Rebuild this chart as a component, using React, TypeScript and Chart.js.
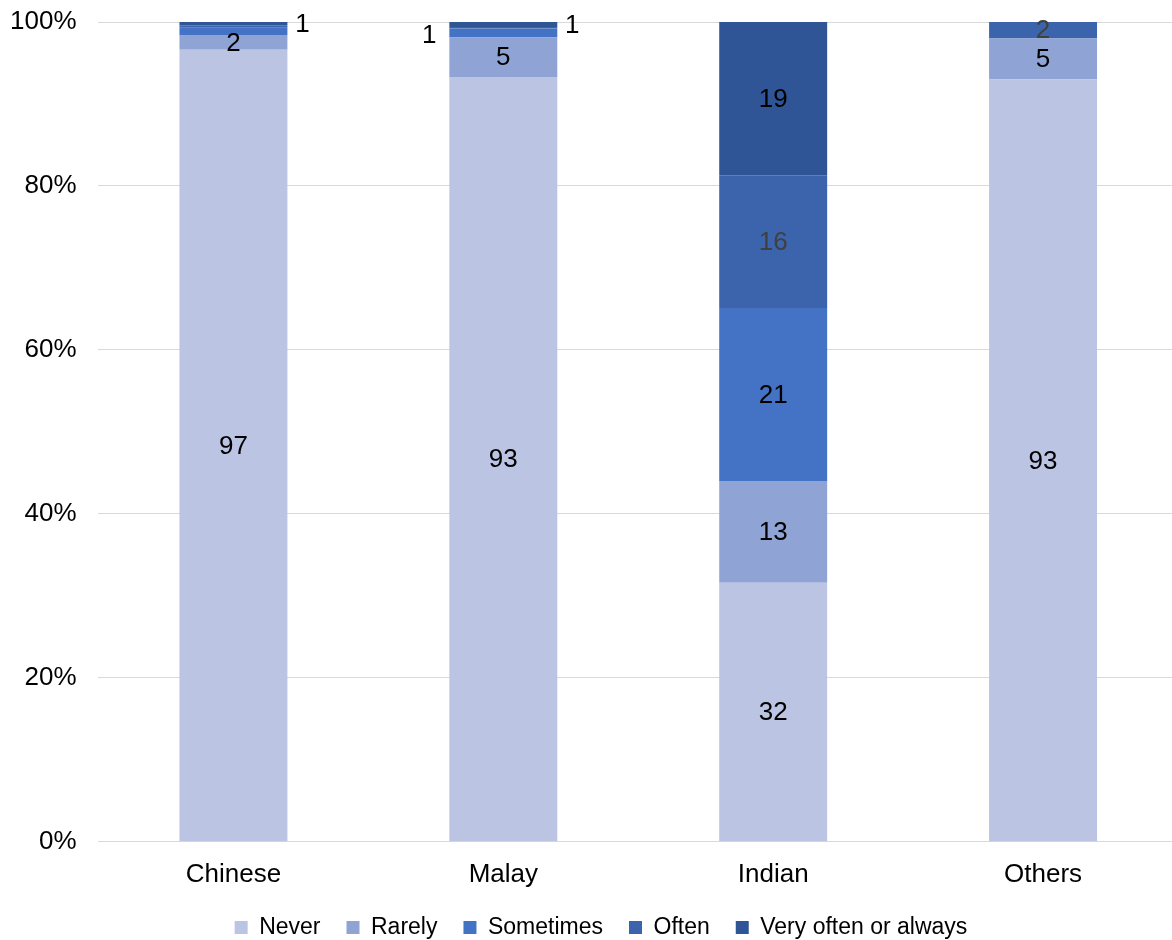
import React, { useEffect, useRef } from "react";
import { Chart, registerables } from "chart.js";

Chart.register(...registerables);

const categories = ["Chinese", "Malay", "Indian", "Others"];
const seriesNames = ["Never", "Rarely", "Sometimes", "Often", "Very often or always"];
const colors = ["#BBC4E3", "#8FA4D5", "#4472C4", "#3B64AD", "#2F5597"];

const never = [96.6, 93.3, 31.6, 93.0];
const rarely = [1.8, 4.8, 12.4, 5.0];
const sometimes = [0.9, 1.1, 21.1, 0.0];
const often = [0.3, 0.2, 16.2, 2.0];
const veryOften = [0.4, 0.6, 18.7, 0.0];

const neverLabels = ["97", "93", "32", "93"];
const rarelyLabels = ["2", "5", "13", "5"];
const sometimesLabels = ["", "1", "21", ""];
const oftenLabels = ["", "", "16", "2"];
const veryOftenLabels = ["1", "1", "19", ""];

// placement: c = centre, l = left of bar, r = right of bar
const neverPos = ["c", "c", "c", "c"];
const rarelyPos = ["c", "c", "c", "c"];
const sometimesPos = ["c", "l", "c", "c"];
const oftenPos = ["c", "c", "c", "c"];
const veryOftenPos = ["r", "r", "c", "c"];

const labelColors = [
  ["#000", "#000", "#000", "#000"],
  ["#000", "#000", "#000", "#000"],
  ["#000", "#000", "#000", "#000"],
  ["#000", "#000", "#404040", "#404040"],
  ["#000", "#000", "#000", "#000"],
];

const yTicks = [0, 20, 40, 60, 80, 100];

const seriesValues = [never, rarely, sometimes, often, veryOften];
const seriesLabels = [neverLabels, rarelyLabels, sometimesLabels, oftenLabels, veryOftenLabels];
const seriesPos = [neverPos, rarelyPos, sometimesPos, oftenPos, veryOftenPos];

const FONT = "'Liberation Sans', Arial, sans-serif";

const labelPlugin = {
  id: "segLabels",
  afterLayout(chart: any) {
    if (chart.legend) {
      chart.legend.left += 18;
      chart.legend.right += 18;
    }
  },
  afterDatasetsDraw(chart: any) {
    const ctx = chart.ctx;
    ctx.save();
    ctx.font = `26px ${FONT}`;
    ctx.textBaseline = "middle";
    ctx.textAlign = "center";
    seriesLabels.forEach((labels, i) => {
      const meta = chart.getDatasetMeta(i);
      meta.data.forEach((el: any, j: number) => {
        const text = labels[j];
        if (!text) return;
        const pos = seriesPos[i][j];
        const half = el.width / 2;
        const cy = (el.y + el.base) / 2;
        ctx.fillStyle = labelColors[i][j];
        if (pos === "c") {
          ctx.fillText(text, el.x, cy + 1);
        } else if (pos === "r") {
          ctx.fillText(text, el.x + half + 15, cy + 1);
        } else {
          ctx.fillText(text, el.x - half - 20, cy + 3);
        }
      });
    });
    ctx.restore();
  },
};

export default function App() {
  const ref = useRef<HTMLCanvasElement>(null);
  useEffect(() => {
    if (!ref.current) return;
    const chart = new Chart(ref.current, {
      type: "bar",
      data: {
        labels: categories,
        datasets: seriesNames.map((name, i) => ({
          label: name,
          data: seriesValues[i],
          backgroundColor: colors[i],
          borderWidth: 0,
          barPercentage: 0.4,
          categoryPercentage: 1,
        })),
      },
      options: {
        responsive: false,
        animation: false,
        layout: { padding: { left: -12, right: 0, top: 22, bottom: -9 } },
        scales: {
          x: {
            stacked: true,
            grid: { display: false, drawTicks: false },
            border: { display: true, color: "#D9D9D9", width: 1 },
            ticks: {
              color: "#000",
              font: { family: FONT, size: 26 },
              padding: 17,
            },
            afterFit: (s: any) => {
              s.height = s.height - 17;
              s.paddingLeft = 0;
              s.paddingRight = 0;
            },
          },
          y: {
            stacked: true,
            min: 0,
            max: 100,
            afterBuildTicks: (axis: any) => {
              axis.ticks = yTicks.map((v) => ({ value: v }));
            },
            afterFit: (s: any) => {
              s.paddingTop = 0;
              s.paddingBottom = 0;
            },
            grid: { color: "#D9D9D9", drawTicks: false },
            border: { display: false },
            ticks: {
              color: "#000",
              font: { family: FONT, size: 26 },
              padding: 22,
              callback: (v: any) => `${v}%`,
            },
          },
        },
        plugins: {
          legend: {
            position: "bottom",
            labels: {
              boxWidth: 13,
              boxHeight: 13,
              color: "#000",
              font: { family: FONT, size: 23 },
              padding: 26,
            },
          },
          tooltip: { enabled: false },
        },
      },
      plugins: [labelPlugin],
    });
    return () => chart.destroy();
  }, []);
  return (
    <div
      style={{
        position: "fixed",
        left: 0,
        top: 0,
        width: 1172,
        height: 940,
        overflow: "hidden",
        background: "#fff",
      }}
    >
      <canvas ref={ref} width={1178} height={940} style={{ display: "block" }} />
    </div>
  );
}
